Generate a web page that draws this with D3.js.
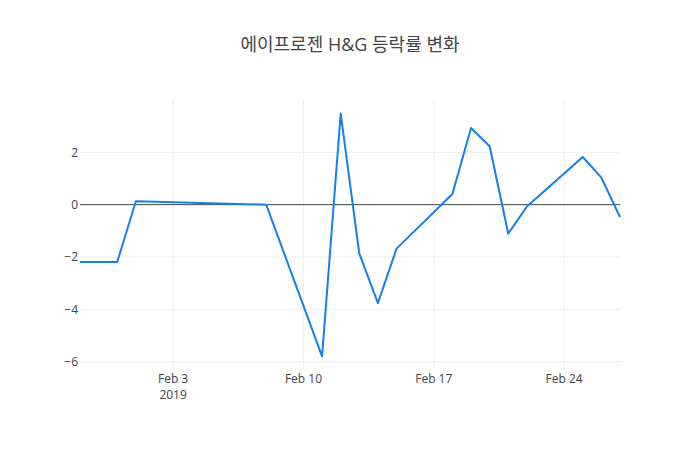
<!DOCTYPE html>
<html>
<head>
<meta charset="utf-8">
<script src="https://cdn.jsdelivr.net/npm/d3@7"></script>
<style>
  html, body { margin: 0; padding: 0; background: #fff; }
  svg { display: block; font-family: "Open Sans", "Noto Sans CJK KR", sans-serif; }
</style>
</head>
<body>
<svg id="chart" width="700" height="450"></svg>
<script>
const titleText = "에이프로젠 H&G 등락률 변화";
const dates = ["2019-01-29","2019-01-31","2019-02-01","2019-02-08","2019-02-11","2019-02-12","2019-02-13","2019-02-14","2019-02-15","2019-02-18","2019-02-19","2019-02-20","2019-02-21","2019-02-22","2019-02-25","2019-02-26","2019-02-27"];
const values = [-2.19, -2.19, 0.13, 0.0, -5.80, 3.48, -1.87, -3.76, -1.68, 0.41, 2.93, 2.23, -1.11, -0.07, 1.82, 1.03, -0.47];
const xTickDates = ["2019-02-03","2019-02-10","2019-02-17","2019-02-24"];
const xTickLabels = ["Feb 3","Feb 10","Feb 17","Feb 24"];
const yTicks = [-6, -4, -2, 0, 2];

const W = 700, H = 450;
const margin = {l: 80, r: 80, t: 100, b: 80};
const svg = d3.select("#chart");
const parse = d3.utcParse("%Y-%m-%d");
const data = dates.map((d, i) => ({date: parse(d), value: values[i]}));

const x = d3.scaleUtc()
  .domain(d3.extent(data, d => d.date))
  .range([margin.l, W - margin.r]);

const [ymin, ymax] = d3.extent(values);
const pad = (ymax - ymin) * 0.056;
const y = d3.scaleLinear()
  .domain([ymin - pad, ymax + pad])
  .range([H - margin.b, margin.t]);

// grid
const g = svg.append("g");
g.selectAll(".xg").data(xTickDates).enter().append("line")
  .attr("x1", d => x(parse(d))).attr("x2", d => x(parse(d)))
  .attr("y1", margin.t).attr("y2", H - margin.b)
  .attr("stroke", "#eee").attr("stroke-width", 1);
g.selectAll(".yg").data(yTicks.filter(v => v !== 0)).enter().append("line")
  .attr("x1", margin.l).attr("x2", W - margin.r)
  .attr("y1", d => y(d)).attr("y2", d => y(d))
  .attr("stroke", "#eee").attr("stroke-width", 1);

// zero line
g.append("line")
  .attr("x1", margin.l).attr("x2", W - margin.r)
  .attr("y1", y(0)).attr("y2", y(0))
  .attr("stroke", "#444").attr("stroke-width", 1);

// y tick labels
svg.append("g").selectAll("text").data(yTicks).enter().append("text")
  .attr("x", margin.l - 2)
  .attr("y", d => y(d))
  .attr("dy", "0.35em")
  .attr("text-anchor", "end")
  .attr("font-size", 12)
  .attr("fill", "#444")
  .text(d => d < 0 ? "\u2212" + Math.abs(d) : String(d));

// x tick labels
const xt = svg.append("g").selectAll("text").data(xTickDates).enter().append("text")
  .attr("x", d => x(parse(d)))
  .attr("y", H - margin.b + 13)
  .attr("text-anchor", "middle")
  .attr("font-size", 12)
  .attr("fill", "#444");
xt.append("tspan").attr("x", d => x(parse(d))).text((d, i) => xTickLabels[i]);
xt.filter((d, i) => i === 0).append("tspan")
  .attr("x", d => x(parse(d))).attr("dy", 16).text("2019");

// line
const line = d3.line().x(d => x(d.date)).y(d => y(d.value));
svg.append("path").datum(data)
  .attr("d", line)
  .attr("fill", "none")
  .attr("stroke", "#1580e8")
  .attr("stroke-width", 2)
  .attr("stroke-linejoin", "round");

// title
svg.append("text")
  .attr("x", W / 2).attr("y", 51)
  .attr("text-anchor", "middle")
  .attr("font-size", 18)
  .attr("fill", "#444")
  .text(titleText);
</script>
</body>
</html>
